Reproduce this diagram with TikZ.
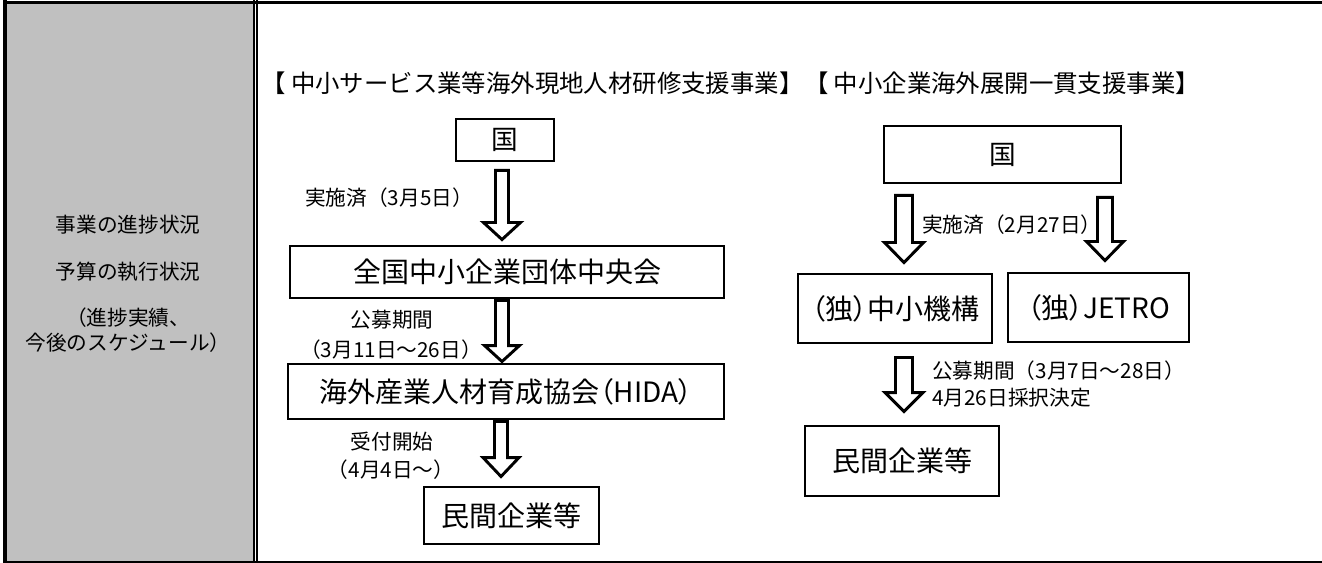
\documentclass[tikz,border=0pt]{standalone}
\usepackage{fontspec}
\setmainfont{Noto Sans CJK JP}
\newfontfamily\jpprop{Noto Sans CJK JP}[RawFeature=+palt]
\usetikzlibrary{calc,positioning}
\definecolor{cellgray}{HTML}{C0C0C0}

\tikzset{
	box/.style={draw=black,line width=2.2pt,fill=white,inner sep=0pt,
		font=\jpprop\fontsize{21}{25}\selectfont},
	lbl/.style={inner sep=0pt,font=\fontsize{15.5}{18.75}\selectfont},
	side/.style={inner sep=0pt,font=\fontsize{15.5}{18.75}\selectfont},
	heading/.style={inner sep=0pt,font=\fontsize{18.3}{22}\selectfont},
	hollow/.style={draw=black,line width=2.2pt,fill=white,line join=miter},
}

% hollow block arrow: x (px), upper node, lower node, gap top, gap bottom,
% half shaft, half head, head length (px)
\newcommand{\hollowarrow}[8]{%
	\draw[hollow] let \p1=(#2.south), \p2=(#3.north) in
	(#1*0.75pt-#6*0.75pt,\y1-#4*0.75pt)
	-- (#1*0.75pt-#6*0.75pt,\y2+#5*0.75pt+#8*0.75pt)
	-- (#1*0.75pt-#7*0.75pt,\y2+#5*0.75pt+#8*0.75pt)
	-- (#1*0.75pt,\y2+#5*0.75pt)
	-- (#1*0.75pt+#7*0.75pt,\y2+#5*0.75pt+#8*0.75pt)
	-- (#1*0.75pt+#6*0.75pt,\y2+#5*0.75pt+#8*0.75pt)
	-- (#1*0.75pt+#6*0.75pt,\y1-#4*0.75pt) -- cycle;}

\begin{document}
\begin{tikzpicture}[x=0.75pt,y=-0.75pt]
	\useasboundingbox (0,0) rectangle (1322,563);
	
	% table frame: grey header cell and its double rule
	\fill[cellgray] (6.7,3.3) rectangle (252.7,561.5);
	\draw[line width=2.5pt] (5,0) -- (5,563);
	\draw[line width=2.4pt] (3.3,2.2) -- (1322,2.2);
	\draw[line width=1.6pt] (3.3,562.2) -- (1322,562.2);
	\draw[line width=1.7pt] (253.8,0) -- (253.8,563);
	\draw[line width=1.7pt] (257.2,0) -- (257.2,563);
	
	% header cell texts
	\node[side] (prog) at (128,225) {事業の進捗状況};
	\node[side] (budget) at (128,272) {予算の執行状況};
	\node[side,align=center] (sched) at (128,330.5) {（進捗実績、\\今後のスケジュール）};
	
	% titles
	\node[heading,anchor=west] (titleA) at (261,83) {【 中小サービス業等海外現地人材研修支援事業】};
	\node[heading,right=0pt of titleA] (titleB) {【 中小企業海外展開一貫支援事業】};
	
	% left flow
	\node[box,minimum width=73.5pt,minimum height=31.5pt,font=\jpprop\fontsize{20}{24}\selectfont] (kokuA) at (505,140) {国};
	\node[box,minimum width=325.5pt,minimum height=39pt] (zenkoku) at (507,272) {全国中小企業団体中央会};
	\node[box,minimum width=327pt,minimum height=41.25pt] (hida) at (506,391.5) {海外産業人材育成協会（HIDA）};
	\node[box,minimum width=131.25pt,minimum height=42.75pt] (minkanA) at (511.5,515.5) {民間企業等};
	
	\hollowarrow{502}{kokuA}{zenkoku}{8}{5}{6.5}{18.5}{17}
	\hollowarrow{502}{zenkoku}{hida}{1}{1}{6.5}{17.5}{16}
	\hollowarrow{501}{hida}{minkanA}{1}{9}{6.5}{18}{19}
	
	\node[lbl,anchor=west] (doneA) at (305,198) {実施済（3月5日）};
	\node[lbl] (boshuA) at (392,320) {公募期間};
	\node[lbl] (kikanA) at (391,350) {（3月11日～26日）};
	\node[lbl] (uketsuke) at (392,442) {受付開始};
	\node[lbl] (kaishi) at (391,470) {（4月4日～）};
	
	% right flow
	\node[box,minimum width=177.75pt,minimum height=42.75pt,font=\jpprop\fontsize{20}{24}\selectfont] (kokuB) at (1002.5,154.5) {国};
	\node[box,minimum width=145.5pt,minimum height=51.75pt] (kiko) at (895,308.5) {（独）中小機構};
	\node[box,minimum width=135.75pt,minimum height=51.75pt] (jetro) at (1098.5,307.5) {（独）JETRO};
	\node[box,minimum width=145.5pt,minimum height=52.5pt] (minkanB) at (902,461) {民間企業等};
	
	\hollowarrow{904}{kokuB}{kiko}{11}{10}{8.5}{19.5}{20}
	\hollowarrow{1105}{kokuB}{jetro}{13}{11}{7.5}{18.5}{19}
	\hollowarrow{904}{kiko}{minkanB}{13}{13}{8.5}{19}{19}
	
	\node[lbl,anchor=west] (doneB) at (922,225) {実施済（2月27日）};
	\node[lbl,anchor=west] (boshuB) at (932,371) {公募期間（3月7日～28日）};
	\node[lbl,anchor=west] (kettei) at (932,398) {4月26日採択決定};
	
\end{tikzpicture}
\end{document}
